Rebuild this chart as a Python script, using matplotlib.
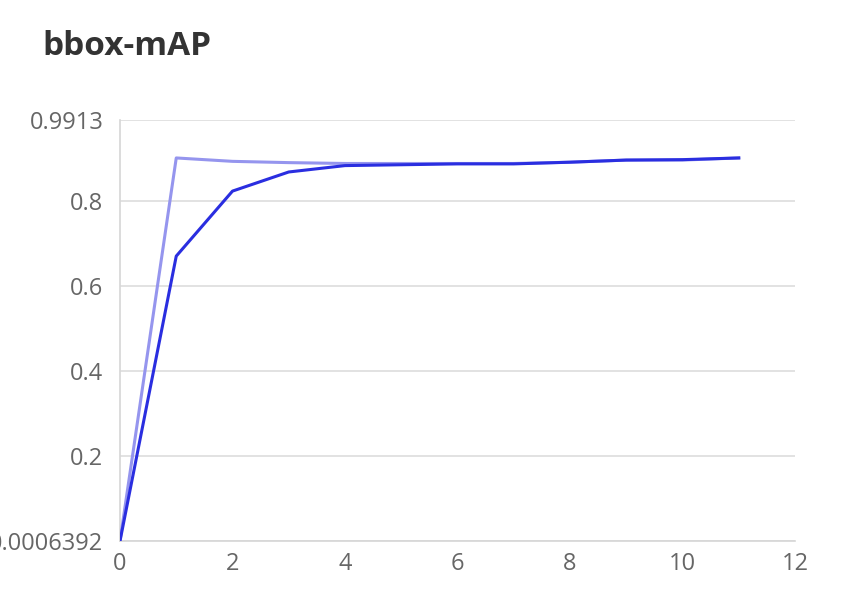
import matplotlib.pyplot as plt

# data
epochs = [0, 1, 2, 3, 4, 5, 6, 7, 8, 9, 10, 11]
map_light = [0.0006392, 0.902, 0.894, 0.891, 0.889, 0.889, 0.889, 0.889,
             0.892, 0.897, 0.897, 0.902]
map_dark = [0.0006392, 0.671, 0.824, 0.869, 0.884, 0.886, 0.888, 0.888,
            0.892, 0.897, 0.898, 0.902]
y_ticks = [0.0006392, 0.2, 0.4, 0.6, 0.8, 0.9913]
y_labels = ['0.0006392', '0.2', '0.4', '0.6', '0.8', '0.9913']
x_ticks = [0, 2, 4, 6, 8, 10, 12]


def main():
    plt.rcParams['font.family'] = ['Open Sans', 'DejaVu Sans']
    fig = plt.figure(figsize=(8.56, 6.02), dpi=100)
    ax = fig.add_axes([120/856, 1 - 541/602, 675/856, 421/602])

    ax.plot(epochs, map_light, color='#9595ee', lw=2.2, zorder=3)
    ax.plot(epochs, map_dark, color='#2a2ee0', lw=2.2, zorder=4)

    ax.set_xlim(0, 12)
    ax.set_ylim(y_ticks[0], y_ticks[-1])
    ax.set_xticks(x_ticks)
    ax.set_yticks(y_ticks)
    ax.set_yticklabels(y_labels)
    ax.tick_params(length=0, labelsize=17, colors='#666666')
    ax.tick_params(axis='y', pad=12)
    ax.tick_params(axis='x', pad=8)

    ax.grid(axis='y', color='#dddddd', lw=1.2)
    ax.set_axisbelow(True)
    for side in ['top', 'right']:
        ax.spines[side].set_visible(False)
    for side in ['left', 'bottom']:
        ax.spines[side].set_color('#d6d6d6')
        ax.spines[side].set_linewidth(1.2)

    fig.text(42/856, 1 - 55/602, 'bbox-mAP', fontsize=24,
             fontweight='bold', color='#333333')

    fig.savefig('out.png', dpi=100)


if __name__ == '__main__':
    main()
